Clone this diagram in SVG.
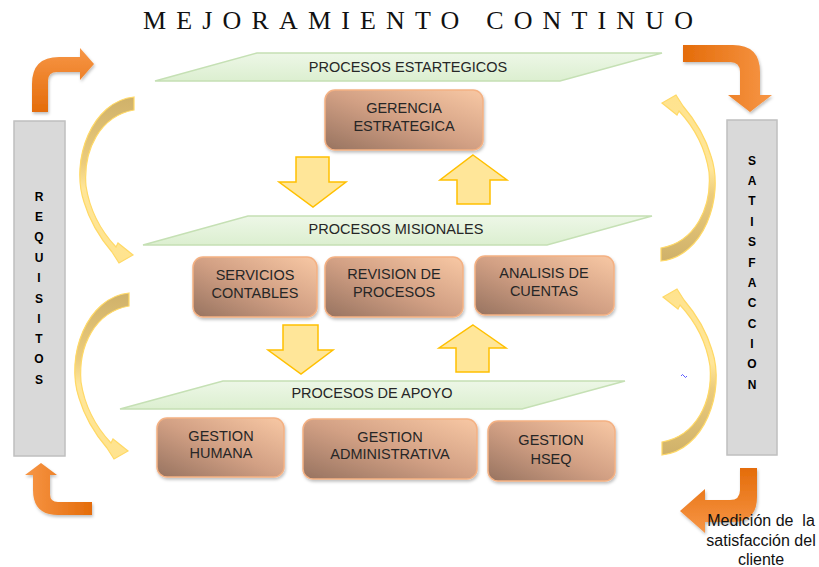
<svg xmlns="http://www.w3.org/2000/svg" width="819" height="567" viewBox="0 0 819 567">
<defs>
<style>
.title{font-family:"Liberation Serif",serif;font-size:26px;fill:#111}
.lbl{font-family:"Liberation Sans",Arial,sans-serif;font-size:14.5px;fill:#262626;text-anchor:middle}
.vl{font-family:"Liberation Sans",Arial,sans-serif;font-size:12px;font-weight:bold;fill:#000;text-anchor:middle}
.meas{font-family:"Liberation Sans",Arial,sans-serif;font-size:16px;fill:#111;text-anchor:middle;white-space:pre}
.box{fill:url(#gBox);stroke:#f4b183;stroke-width:1.5;filter:url(#sh)}
.par{fill:url(#gPar);stroke:#c5e0b4;stroke-width:1.5}
.bar{fill:#d9d9d9;stroke:#bfbfbf;stroke-width:1.5}
.blk{fill:#ffe699;stroke:#ffc000;stroke-width:1.5}
.crv{fill:url(#gCrv);stroke:#ffd966;stroke-width:1.2}
</style>
<linearGradient id="gBox" x1="0" y1="1" x2="1" y2="0">
<stop offset="0" stop-color="#977360"/>
<stop offset="0.5" stop-color="#d2a084"/>
<stop offset="1" stop-color="#f8c8a4"/>
</linearGradient>
<linearGradient id="gPar" x1="0" y1="0" x2="0" y2="1">
<stop offset="0" stop-color="#edf7e7"/>
<stop offset="1" stop-color="#dcefd0"/>
</linearGradient>
<linearGradient id="gCrv" x1="0" y1="0" x2="0" y2="1">
<stop offset="0" stop-color="#cfb16a"/>
<stop offset="0.4" stop-color="#eccc7c"/>
<stop offset="0.55" stop-color="#ffe699"/>
<stop offset="1" stop-color="#ffe38e"/>
</linearGradient>
<linearGradient id="gOrV" x1="0" y1="1" x2="0" y2="0">
<stop offset="0" stop-color="#e46c0a"/>
<stop offset="1" stop-color="#f79646"/>
</linearGradient>
<linearGradient id="gOrH" x1="0" y1="0" x2="1" y2="0">
<stop offset="0" stop-color="#e46c0a"/>
<stop offset="1" stop-color="#f79646"/>
</linearGradient>
<linearGradient id="gOrH2" x1="1" y1="0" x2="0" y2="0">
<stop offset="0" stop-color="#e46c0a"/>
<stop offset="1" stop-color="#f79646"/>
</linearGradient>
<linearGradient id="gOrV2" x1="0" y1="0" x2="0" y2="1">
<stop offset="0" stop-color="#e46c0a"/>
<stop offset="1" stop-color="#f79646"/>
</linearGradient>
<filter id="sh" x="-10%" y="-10%" width="130%" height="140%">
<feDropShadow dx="1" dy="2" stdDeviation="1.5" flood-color="#000" flood-opacity="0.25"/>
</filter>
<path id="curve" class="crv" d="M134,97 C92,101 70,160 84,202 C90,222 100,238 112,252 L119,263 L133,255 L118,243 L116,247 C102,232 90,212 86,186 C83,150 100,116 134,110 Z"/>
</defs>

<text id="title" class="title" x="143" y="29" textLength="550" lengthAdjust="spacing">MEJORAMIENTO CONTINUO</text>

<g id="requisitos">
<rect class="bar" x="14" y="121" width="51" height="335"/>
<text class="vl" x="39" y="200.5">R</text>
<text class="vl" x="39" y="221">E</text>
<text class="vl" x="39" y="241">Q</text>
<text class="vl" x="39" y="261.5">U</text>
<text class="vl" x="39" y="282">I</text>
<text class="vl" x="39" y="302.5">S</text>
<text class="vl" x="39" y="322.5">I</text>
<text class="vl" x="39" y="343">T</text>
<text class="vl" x="39" y="363">O</text>
<text class="vl" x="39" y="383.5">S</text>
</g>

<g id="satisfaccion">
<rect class="bar" x="727" y="120" width="50" height="335"/>
<text class="vl" x="752" y="164.5">S</text>
<text class="vl" x="752" y="185">A</text>
<text class="vl" x="752" y="205">T</text>
<text class="vl" x="752" y="226">I</text>
<text class="vl" x="752" y="246">S</text>
<text class="vl" x="752" y="266.5">F</text>
<text class="vl" x="752" y="287">A</text>
<text class="vl" x="752" y="307">C</text>
<text class="vl" x="752" y="327.5">C</text>
<text class="vl" x="752" y="348">I</text>
<text class="vl" x="752" y="368">O</text>
<text class="vl" x="752" y="388.5">N</text>
</g>

<g id="procesos-estrategicos">
<polygon class="par" points="257,53 662,53 560,81 155,81"/>
<text class="lbl" x="408" y="72">PROCESOS ESTARTEGICOS</text>
</g>
<g id="gerencia-estrategica">
<rect class="box" x="325" y="90" width="158" height="60" rx="10"/>
<text class="lbl" x="404" y="113">GERENCIA</text>
<text class="lbl" x="404" y="131">ESTRATEGICA</text>
</g>

<g id="procesos-misionales">
<polygon class="par" points="248,216 652,216 547,245 143,245"/>
<text class="lbl" x="396" y="234">PROCESOS MISIONALES</text>
</g>
<g id="servicios-contables">
<rect class="box" x="193" y="257" width="124" height="60" rx="10"/>
<text class="lbl" x="255" y="280">SERVICIOS</text>
<text class="lbl" x="255" y="298">CONTABLES</text>
</g>
<g id="revision-procesos">
<rect class="box" x="325" y="257" width="138" height="60" rx="10"/>
<text class="lbl" x="394" y="279">REVISION DE</text>
<text class="lbl" x="394" y="297">PROCESOS</text>
</g>
<g id="analisis-cuentas">
<rect class="box" x="475" y="256" width="139" height="59" rx="10"/>
<text class="lbl" x="544" y="278">ANALISIS DE</text>
<text class="lbl" x="544" y="296">CUENTAS</text>
</g>

<g id="procesos-apoyo">
<polygon class="par" points="223,381 625,381 522,409 120,409"/>
<text class="lbl" x="372" y="398">PROCESOS DE APOYO</text>
</g>
<g id="gestion-humana">
<rect class="box" x="157" y="418" width="127" height="59" rx="10"/>
<text class="lbl" x="221" y="441">GESTION</text>
<text class="lbl" x="221" y="458">HUMANA</text>
</g>
<g id="gestion-administrativa">
<rect class="box" x="303" y="419" width="174" height="60" rx="10"/>
<text class="lbl" x="390" y="442">GESTION</text>
<text class="lbl" x="390" y="459">ADMINISTRATIVA</text>
</g>
<g id="gestion-hseq">
<rect class="box" x="488" y="421" width="127" height="60" rx="10"/>
<text class="lbl" x="551" y="445">GESTION</text>
<text class="lbl" x="551" y="464">HSEQ</text>
</g>

<g id="connectors">
<polygon class="blk" points="296,157 329,157 329,182 346,182 313,207 279,182 296,182"/>
<polygon class="blk" points="473,155 507,180 490,180 490,204 457,204 457,180 440,180"/>
<polygon class="blk" points="283,325 318,325 318,350 333,350 301,374 268,350 283,350"/>
<polygon class="blk" points="473,325 506,348 489,348 489,372 456,372 456,348 439,348"/>
<use href="#curve"/>
<use href="#curve" transform="translate(-5,196)"/>
<use href="#curve" transform="translate(795,358) rotate(180)"/>
<use href="#curve" transform="translate(796,552) rotate(180)"/>
<path fill="url(#gOrV)" filter="url(#sh)" d="M32,112 L32,84 Q32,57 59,57 L80,57 L80,48 L94,64 L80,80 L80,72 L57,72 Q48,72 48,81 L48,112 Z"/>
<path fill="url(#gOrH)" filter="url(#sh)" d="M683,45 L733,45 Q760,45 760,72 L760,95 L772,95 L750,112 L728,95 L740,95 L740,72 Q740,62 730,62 L683,62 Z"/>
<path fill="url(#gOrH2)" filter="url(#sh)" d="M41,463 L57,475 L50,475 L50,494 Q50,502 58,502 L92,502 L92,515 L58,515 Q33,515 33,490 L33,475 L25,475 Z"/>
<path fill="url(#gOrV2)" filter="url(#sh)" d="M740,468 L757,468 L757,497 Q757,522 732,522 L705,522 L705,533 L680,511 L705,489 L705,500 L730,500 Q740,500 740,490 Z"/>
</g>

<path d="M681,376 q1.5,-3 3,0 q1.5,3 3,0" fill="none" stroke="#3333ff" stroke-width="0.8"/>

<g id="medicion">
<text class="meas" x="761" y="526">Medición de  la</text>
<text class="meas" x="761" y="546">satisfacción del</text>
<text class="meas" x="761" y="565">cliente</text>
</g>
</svg>
